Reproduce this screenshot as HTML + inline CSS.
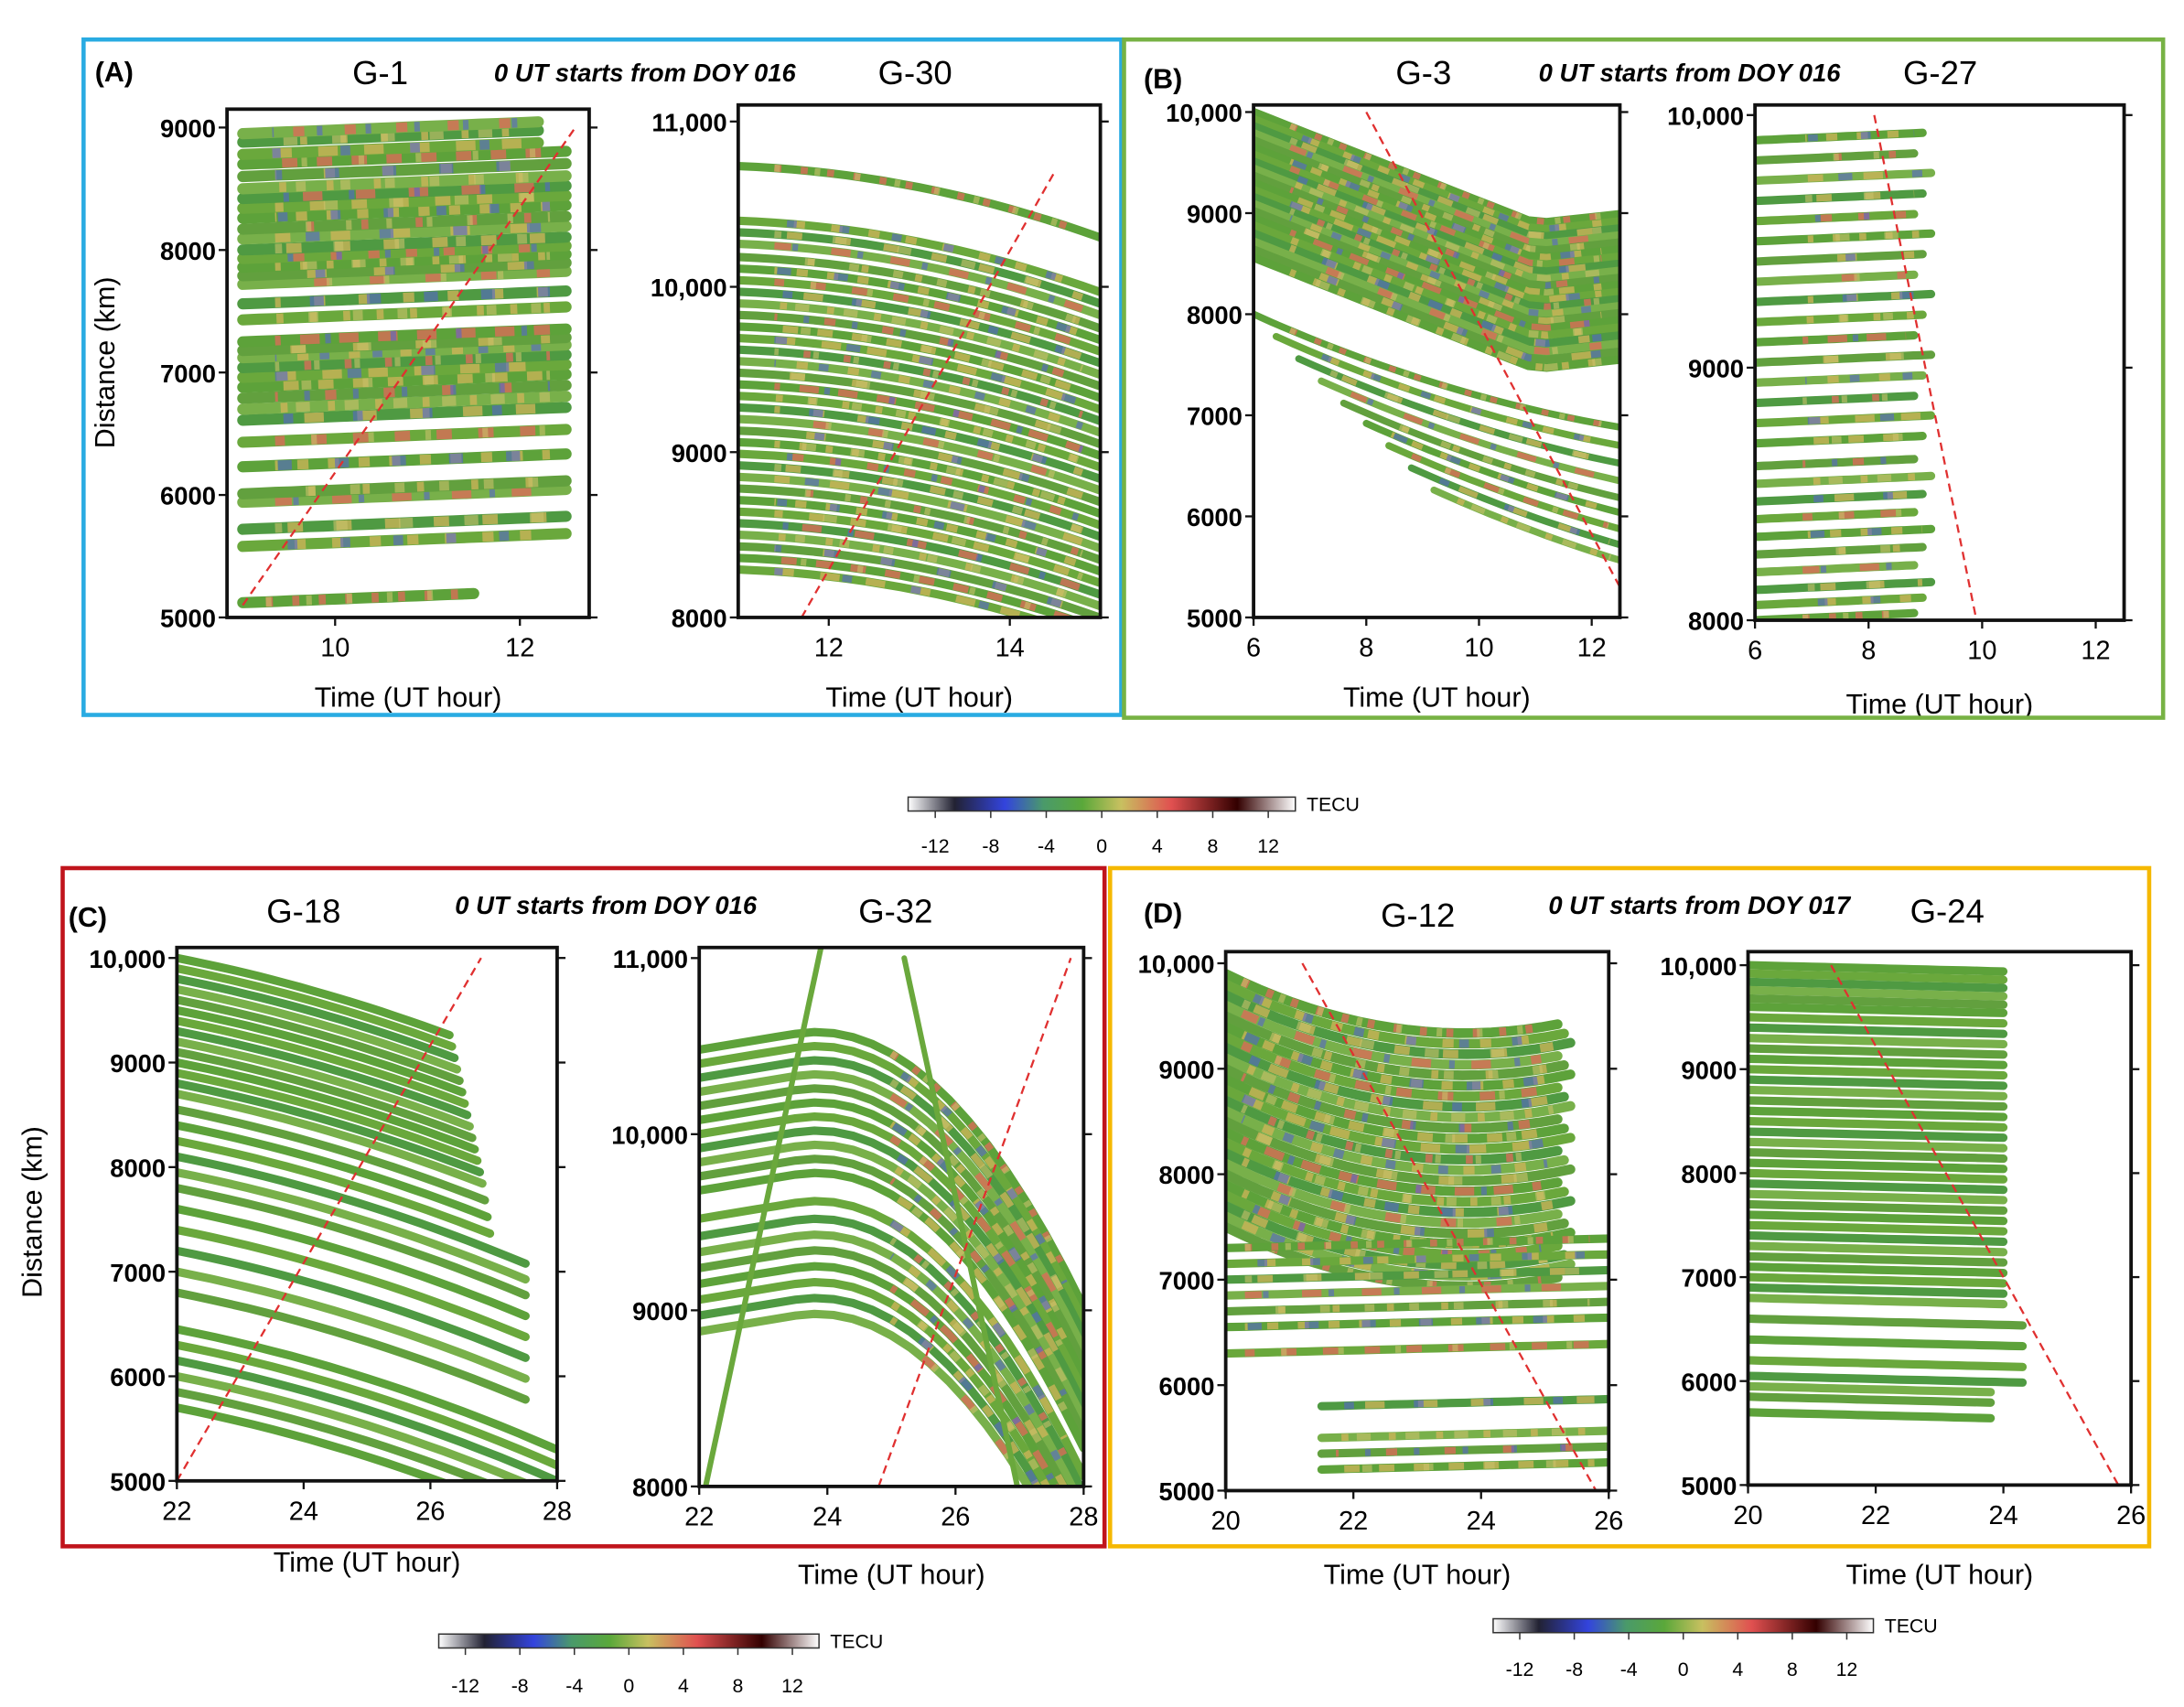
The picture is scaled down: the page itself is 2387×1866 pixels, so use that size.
<!DOCTYPE html>
<html><head><meta charset="utf-8"><style>
html,body{margin:0;padding:0;background:#fff;}
svg{display:block;font-family:"Liberation Sans",sans-serif;}
</style></head><body>
<svg id="fig" width="2387" height="1866" viewBox="0 0 1568 1225" xmlns="http://www.w3.org/2000/svg">
<defs>
<linearGradient id="cb" x1="0" x2="1" y1="0" y2="0">
<stop offset="0" stop-color="#fff"/><stop offset="0.12" stop-color="#223"/><stop offset="0.25" stop-color="#3344dd"/>
<stop offset="0.35" stop-color="#4a9a6a"/><stop offset="0.45" stop-color="#5aa83a"/><stop offset="0.55" stop-color="#c8c060"/>
<stop offset="0.68" stop-color="#e05050"/><stop offset="0.85" stop-color="#300"/><stop offset="1" stop-color="#fff"/>
</linearGradient>
</defs>
<g id="root"></g>
</svg>
<script>
// ---- data ----
const g1Tracks = [5120,5580,5720,5940,6010,6230,6430,6610,6700,6790,6880,6960,7040,7120,7180,7250,7430,7560,7720,7790,7860,7930,8000,8090,8170,8260,8340,8420,8500,8600,8700,8780,8880,8950];
const g30Tracks = [10730,10400,10330,10260,10180,10110,10040,9970,9900,9830,9760,9690,9620,9550,9480,9410,9340,9270,9200,9130,9060,8990,8920,8850,8780,8710,8640,8570,8500,8430,8360,8290];
const g3Tracks = [10000,9930,9860,9790,9720,9650,9580,9510,9440,9370,9300,9230,9160,9090,9020,8950,8880,8800,8720,8640,8560];
const g3Lower = [8000,7780,7560,7340,7120,6920,6700,6480,6260];
const g27Tracks = [8000,8060,8120,8190,8260,8330,8400,8470,8540,8610,8700,8780,8860,8940,9020,9100,9180,9260,9340,9420,9500,9580,9660,9740,9820,9900];
const g18Tracks = [10000,9900,9800,9700,9600,9500,9400,9300,9200,9100,9000,8900,8800,8700,8550,8400,8250,8100,7950,7800,7600,7400,7200,7000,6800,6450,6300,6150,6000,5850,5700];
const g32Tracks = [10480,10400,10320,10240,10160,10080,10000,9920,9840,9760,9680,9520,9420,9330,9240,9150,9060,8970,8880];
const g32Steep = [8000,11000];
const g12Tracks = [9900,9800,9700,9600,9500,9400,9300,9200,9100,9000,8900,8800,8700,8600,8500,8400,8300,8200,8100,8000,7900,7800,7700,7600,7500];
const g12Lower = [7300,7150,7000,6850,6700,6550,6300,5800,5500,5350,5200];
const g24Tracks = [10000,9920,9840,9760,9680,9600,9500,9400,9300,9200,9100,9000,8900,8800,8700,8600,8500,8400,8300,8200,8100,8000,7900,7800,7700,7600,7500,7400,7300,7200,7100,7000,6900,6800,6600,6400,6200,6050,5950,5850,5700];
const cbLabels = ["-12","-8","-4","0","4","8","12"];
const dashA1=[[9,5100],[12.6,9000]], dashA2=[[11.7,8000],[14.5,10700]], dashB1=[[8,10000],[12.5,5300]], dashB2=[[8.1,10000],[9.9,8000]];
const dashC1=[[22,5000],[26.8,10000]], dashC2=[[24.8,8000],[27.8,11000]], dashD1=[[21.2,10000],[25.8,5000]], dashD2=[[21.3,10000],[25.8,5000]];

const NS="http://www.w3.org/2000/svg";
const root=document.getElementById('root');
function el(tag,attrs,parent,text){const e=document.createElementNS(NS,tag);for(const k in attrs)e.setAttribute(k,attrs[k]);if(text!==undefined)e.textContent=text;(parent||root).appendChild(e);return e;}
function txt(x,y,s,size,parent,extra){return el('text',Object.assign({x:x,y:y,'font-size':size,'text-anchor':'middle'},extra||{}),parent,s);}

const greens=["#5da23a","#6aa83c","#4f9a42","#78b04a","#62a03e"];
function panel(name,cfg){
  const g=el('g',{});
  
  
  const [x0,x1]=cfg.px,[y0,y1]=cfg.py;
  const sx=t=>x0+(t-cfg.xd[0])/(cfg.xd[1]-cfg.xd[0])*(x1-x0);
  const sy=d=>y1-(d-cfg.yd[0])/(cfg.yd[1]-cfg.yd[0])*(y1-y0);
  const clip='c'+name;
  const cp=el('clipPath',{id:clip},g);el('rect',{x:x0,y:y0,width:x1-x0,height:y1-y0},cp);
  const tg=el('g',{'clip-path':'url(#'+clip+')'},g);
  cfg.sets.forEach(set=>{
    set.d.forEach((d0,i)=>{
      const ts=set.t0(i,d0),te=set.t1(i,d0);let pts=[];
      for(let k=0;k<=20;k++){const t=ts+(te-ts)*k/20;pts.push(sx(t).toFixed(1)+','+sy(d0+set.s(t-ts,i)).toFixed(1));}
      const p=el('polyline',{points:pts.join(' '),fill:'none',stroke:set.col||greens[i%5],'stroke-width':set.w||6,'stroke-linecap':'round'},tg);
      
      
      if(cfg.accent&&!set.noAccent){
        el('polyline',{points:pts.slice(cfg.accent[0],cfg.accent[1]).join(' '),fill:'none',stroke:i%3?'#d0b45a':'#e06a5a','stroke-width':(set.w||6)-1,'stroke-dasharray':(5+(i%4)*3)+' '+(14+(i%5)*5),'stroke-dashoffset':(i*13)%37,opacity:0.75},tg);
        el('polyline',{points:pts.slice(cfg.accent[0],cfg.accent[1]).join(' '),fill:'none',stroke:i%2?'#5566cc':'#c9c26a','stroke-width':(set.w||6)-1,'stroke-dasharray':(4+(i%3)*3)+' '+(25+(i%4)*6),'stroke-dashoffset':(i*29)%53,opacity:0.6},tg);
      }
    });
  });
  const dl=el('line',{x1:sx(cfg.dash[0][0]),y1:sy(cfg.dash[0][1]),x2:sx(cfg.dash[1][0]),y2:sy(cfg.dash[1][1]),stroke:'#e03030','stroke-width':1.5,'stroke-dasharray':'6 4'},tg);
  
  
  el('rect',{x:x0,y:y0,width:x1-x0,height:y1-y0,fill:'none',stroke:'#111','stroke-width':2.5},g);
  cfg.xt.forEach(t=>{el('line',{x1:sx(t),x2:sx(t),y1:y1,y2:y1+6,stroke:'#111','stroke-width':1.5},g);txt(sx(t),y1+28,String(t),19,g);});
  cfg.yt.forEach(v=>{el('line',{x1:x0-6,x2:x0,y1:sy(v),y2:sy(v),stroke:'#111','stroke-width':1.5},g);el('line',{x1:x1,x2:x1+6,y1:sy(v),y2:sy(v),stroke:'#111','stroke-width':1.5},g);
    txt(x0-8,sy(v)+7,v>=10000?v.toLocaleString('en-US'):String(v),18,g,{'text-anchor':'end','font-weight':'bold'});});
  txt((x0+x1)/2,cfg.xlab,'Time (UT hour)',20,g);
  txt(cfg.tx,cfg.ty,cfg.title,24,g);
}
const c=(v)=>()=>v;
panel('panel-g1',{px:[163,423],py:[78,443],xd:[8.83,12.75],yd:[5000,9150],xt:[10,12],yt:[5000,6000,7000,8000,9000],xlab:507,title:'G-1',tx:273,ty:60,dash:dashA1,accent:[2,20],
 sets:[{d:g1Tracks,t0:c(9),t1:(i)=>i==0?11.5:(i>30?12.2:12.5),s:(t)=>30*t,w:8}]});
panel('panel-g30',{px:[530,790],py:[75,443],xd:[11,15],yd:[8000,11100],xt:[12,14],yt:[8000,9000,10000,11000],xlab:507,title:'G-30',tx:657,ty:60,dash:dashA2,accent:[2,20],
 sets:[{d:g30Tracks,t0:c(11),t1:c(15),s:(t)=>-20*t-22*t*t,w:6}]});
panel('panel-g3',{px:[900,1163],py:[75,443],xd:[6,12.5],yd:[5000,10070],xt:[6,8,10,12],yt:[5000,6000,7000,8000,9000,10000],xlab:507,title:'G-3',tx:1022,ty:60,dash:dashB1,accent:[2,20],
 sets:[{d:g3Tracks,t0:c(6),t1:c(12.5),s:(t)=>t<5?-220*t:-1100+60*(t-5),w:6},
       {d:g3Lower,t0:(i)=>6+i*0.4,t1:c(12.5),s:(t)=>-250*t+12*t*t,w:5}]});
panel('panel-g27',{px:[1260,1525],py:[75,445],xd:[6,12.5],yd:[8000,10040],xt:[6,8,10,12],yt:[8000,9000,10000],xlab:512,title:'G-27',tx:1393,ty:60,dash:dashB2,accent:[6,20],
 sets:[{d:g27Tracks,t0:c(6),t1:(i)=>8.8+(i%3)*0.15,s:(t)=>10*t,w:6}]});
panel('panel-g18',{px:[127,400],py:[680,1063],xd:[22,28],yd:[5000,10100],xt:[22,24,26,28],yt:[5000,6000,7000,8000,9000,10000],xlab:1128,title:'G-18',tx:218,ty:662,dash:dashC1,
 sets:[{d:g18Tracks,t0:c(22),t1:(i)=>i<17?26.3+i*0.04:(i<25?27.5:28),s:(t)=>-120*t-12*t*t,w:6}]});
panel('panel-g32',{px:[502,778],py:[680,1067],xd:[22,28],yd:[8000,11060],xt:[22,24,26,28],yt:[8000,9000,10000,11000],xlab:1137,title:'G-32',tx:643,ty:662,dash:dashC2,accent:[10,20],
 sets:[{d:g32Tracks,t0:c(22),t1:c(28),s:(t)=>60*t-90*Math.max(0,t-1.5)*Math.max(0,t-1.5),w:6},
       {d:g32Steep,t0:(i)=>i?25.2:22.1,t1:(i)=>i?27:23.9,s:(t,i)=>i?-1700*t:1700*t,w:4,col:'#6aa83c',noAccent:true}]});
panel('panel-g12',{px:[880,1155],py:[683,1070],xd:[20,26],yd:[5000,10110],xt:[20,22,24,26],yt:[5000,6000,7000,8000,9000,10000],xlab:1137,title:'G-12',tx:1018,ty:665,dash:dashD1,accent:[1,20],
 sets:[{d:g12Tracks,t0:c(20),t1:(i)=>25.2+(i%3)*0.1,s:(t)=>-300*t+40*t*t,w:7},
       {d:g12Lower,t0:(i)=>i<7?20:21.5,t1:c(26),s:(t)=>15*t,w:6}]});
panel('panel-g24',{px:[1255,1530],py:[683,1066],xd:[20,26],yd:[5000,10130],xt:[20,22,24,26],yt:[5000,6000,7000,8000,9000,10000],xlab:1137,title:'G-24',tx:1398,ty:662,dash:dashD2,
 sets:[{d:g24Tracks,t0:c(20),t1:(i)=>i<34?24:(i<38?24.3:23.8),s:(t)=>-15*t,w:6}]});

[[60,28,745,485,'#29abe2','panel-a-frame'],[807,28,746,487,'#77b244','panel-b-frame'],[45,623,748,487,'#c0141c','panel-c-frame'],[797,623,746,487,'#f5b800','panel-d-frame']].forEach(b=>{
  const r=el('rect',{x:b[0],y:b[1],width:b[2],height:b[3],fill:'none',stroke:b[4],'stroke-width':3});
  
  
});
[['(A)',82,58],['(B)',835,63],['(C)',63,665],['(D)',835,662]].forEach(l=>{const t=txt(l[1],l[2],l[0],20,root,{'font-weight':'bold'});});
[['0 UT starts from DOY 016',463,58],['0 UT starts from DOY 016',1213,58],['0 UT starts from DOY 016',435,656],['0 UT starts from DOY 017',1220,656]].forEach(l=>{
  const t=txt(l[1],l[2],l[0],18,root,{'font-weight':'bold','font-style':'italic'});});
const ya=txt(0,0,'Distance (km)',20,root,{transform:'translate(82,260) rotate(-90)'});
const yc=txt(0,0,'Distance (km)',20,root,{transform:'translate(30,870) rotate(-90)'});

function colorbar(name,x,y,w,ly){
  const g=el('g',{});
  
  
  el('rect',{x:x,y:y,width:w,height:10,fill:'url(#cb)',stroke:'#333','stroke-width':1},g);
  txt(x+w+8,y+10,'TECU',14,g,{'text-anchor':'start'});
  cbLabels.forEach((s,i)=>{const px=x+w*(0.07+0.86*i/(cbLabels.length-1));el('line',{x1:px,x2:px,y1:y+10,y2:y+15,stroke:'#333'},g);txt(px,ly,s,14,g);});
}
colorbar('colorbar-top',652,572,278,612);
colorbar('colorbar-c',315,1173,273,1215);
colorbar('colorbar-d',1072,1162,273,1203);
</script>
</body></html>
